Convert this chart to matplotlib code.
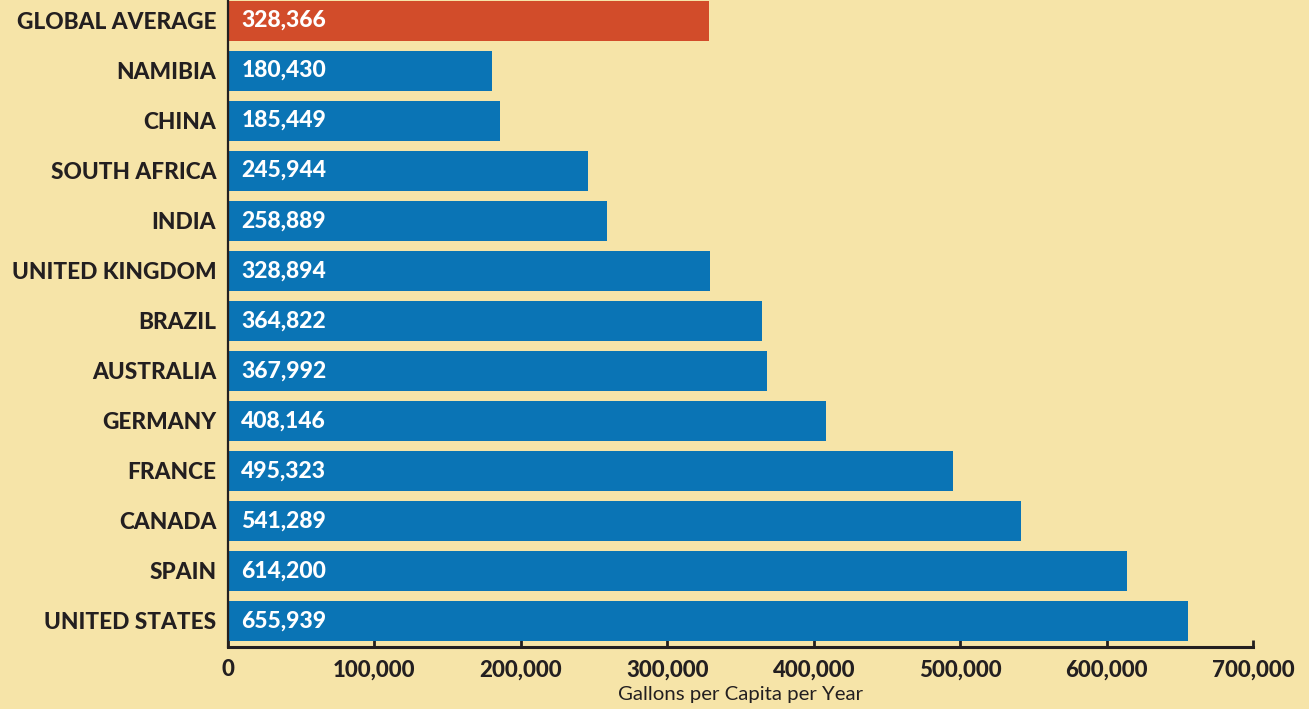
import matplotlib.pyplot as plt
from matplotlib.ticker import FuncFormatter

countries = ['GLOBAL AVERAGE', 'NAMIBIA', 'CHINA', 'SOUTH AFRICA', 'INDIA',
             'UNITED KINGDOM', 'BRAZIL', 'AUSTRALIA', 'GERMANY', 'FRANCE',
             'CANADA', 'SPAIN', 'UNITED STATES']
gallons = [328366, 180430, 185449, 245944, 258889, 328894, 364822,
           367992, 408146, 495323, 541289, 614200, 655939]
xticks = [0, 100000, 200000, 300000, 400000, 500000, 600000, 700000]

bg = '#F6E4A8'
blue = '#0A74B5'
orange = '#D24C2A'
dark = '#231F20'

plt.rcParams['font.family'] = ['Lato', 'DejaVu Sans']

fig = plt.figure(figsize=(13.09, 7.09), dpi=100, facecolor=bg)
ax = fig.add_axes([228 / 1309, 1 - 647 / 709, (1253 - 228) / 1309, 647 / 709])
ax.set_facecolor(bg)

ypos = list(range(len(countries)))
colors = [orange] + [blue] * (len(countries) - 1)
ax.barh(ypos, gallons, height=0.8, color=colors, zorder=2)

for y, v in zip(ypos, gallons):
    ax.text(9000, y, f'{v:,}', color='white', fontsize=16.5, fontweight='black',
            va='center', ha='left', zorder=3)

ax.set_xlim(0, 700000)
ax.set_ylim(12.52, -0.41)
ax.set_yticks(ypos)
ax.set_yticklabels(countries, fontsize=16.3, fontweight='black', color=dark)
ax.tick_params(axis='y', length=0, pad=8.5)

ax.set_xticks(xticks)
ax.xaxis.set_major_formatter(FuncFormatter(lambda v, p: f'{int(v):,}'))
for lbl in ax.get_xticklabels():
    lbl.set_fontweight('black')
ax.tick_params(axis='x', direction='in', length=5, width=2, color=dark,
               labelsize=16, labelcolor=dark, pad=9)
ax.set_xticks([700000], minor=True)
ax.tick_params(axis='x', which='minor', direction='in', length=15, width=2.2, color=dark)

for s in ['top', 'right']:
    ax.spines[s].set_visible(False)
ax.spines['bottom'].set_linewidth(2.2)
ax.spines['bottom'].set_color(dark)
ax.spines['left'].set_linewidth(1.6)
ax.spines['left'].set_color(dark)

ax.set_xlabel('Gallons per Capita per Year', fontsize=14.7, color=dark, labelpad=4)

fig.savefig('out.png', dpi=100, facecolor=bg)
